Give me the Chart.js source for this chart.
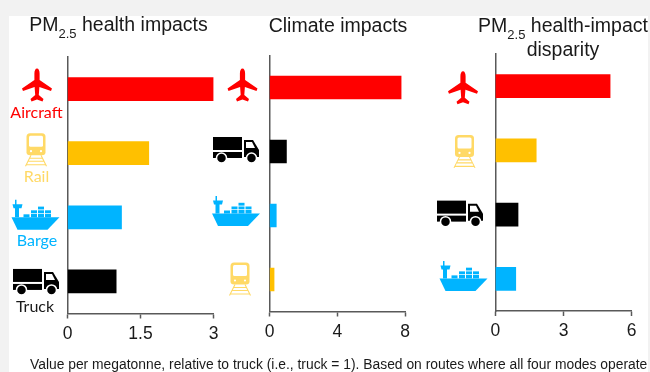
<!DOCTYPE html>
<html>
<head>
<meta charset="utf-8">
<script src="https://cdn.jsdelivr.net/npm/chart.js@4/dist/chart.umd.min.js"></script>
<style>
  html, body { margin: 0; padding: 0; background: #f2f2f2; }
  #page { position: absolute; left: 0; top: 0; width: 650px; height: 372px; overflow: hidden; }
  #sheet { position: absolute; left: 9px; top: 16px; width: 639px; height: 356px; background: #fff; }
  canvas { position: absolute; left: 0; top: 0; }
  .title, .note { position: absolute; font-family: "Liberation Sans", Arial, sans-serif; color: #1a1a1a; white-space: nowrap; text-align: center; }
  .title { font-size: 19.5px; line-height: 24px; transform: translateX(-50%); }
  .title sub { font-size: 13px; line-height: 0; vertical-align: -6.5px; }
  .note { font-size: 13.85px; line-height: 16px; left: 30px; top: 356px; }
</style>
</head>
<body>
<div id="page">
  <div id="sheet"></div>
  <canvas id="chartHealth" width="650" height="372"></canvas>
  <canvas id="chartClimate" width="650" height="372"></canvas>
  <canvas id="chartDisparity" width="650" height="372"></canvas>
  <div class="title" style="left:118.5px;top:12px">PM<sub>2.5</sub> health impacts</div>
  <div class="title" style="left:338px;top:13px">Climate impacts</div>
  <div class="title" style="left:563px;top:13px">PM<sub>2.5</sub> health-impact<br>disparity</div>
  <div class="note">Value per megatonne, relative to truck (i.e., truck = 1). Based on routes where all four modes operate</div>
</div>
<script>
// 値は図から読み取り
const healthModes = ['Aircraft', 'Rail', 'Barge', 'Truck'];
const healthValues = [3.0, 1.67, 1.11, 1.0];
const healthTicks = [0, 1.5, 3];

const climateModes = ['Aircraft', 'Truck', 'Barge', 'Rail'];
const climateValues = [7.77, 1.0, 0.4, 0.27];
const climateTicks = [0, 4, 8];

const disparityModes = ['Aircraft', 'Rail', 'Truck', 'Barge'];
const disparityValues = [5.05, 1.8, 1.0, 0.9];
const disparityTicks = [0, 3, 6];

const barColors = { Aircraft: '#ff0000', Rail: '#ffc000', Barge: '#00b4ff', Truck: '#000000' };
const iconColors = { Aircraft: '#ff0000', Rail: '#ffd966', Barge: '#00b4ff', Truck: '#000000' };

const AXIS_COLOR = '#595959';

// アイコン描画 (x, y はアイコンの中心)
function drawPlane(ctx, x, y, color) {
    ctx.save();
    ctx.translate(x - 15, y - 17);
    ctx.fillStyle = color;
    ctx.fill(new Path2D('M15 0C16.6 0 17.6 2 17.6 5L17.6 11.5L30 20L29 22.5L17.4 18.5L16.8 26.5L21.5 30.5L20.5 33L15 31L9.5 33L8.5 30.5L13.2 26.5L12.6 18.5L1 22.5L0 20L12.4 11.5L12.4 5C12.4 2 13.4 0 15 0Z'));
    ctx.restore();
}

function drawTrain(ctx, x, y, color) {
    ctx.save();
    ctx.translate(x - 11, y - 16.5);
    ctx.fillStyle = color;
    ctx.strokeStyle = color;
    ctx.fill(new Path2D('M5 0L17 0Q20.5 0 20.5 3.5L20.5 19Q20.5 22 17 22L5 22Q1.5 22 1.5 19L1.5 3.5Q1.5 0 5 0Z'));
    ctx.fillStyle = '#fff';
    ctx.fill(new Path2D('M5.5 2.5L16.5 2.5Q18 2.5 18 4L18 12Q18 13.5 16.5 13.5L5.5 13.5Q4 13.5 4 12L4 4Q4 2.5 5.5 2.5Z'));
    ctx.beginPath();
    ctx.arc(6, 18, 1.1, 0, Math.PI * 2);
    ctx.arc(16, 18, 1.1, 0, Math.PI * 2);
    ctx.fill();
    // 線路
    ctx.lineWidth = 1.1;
    ctx.beginPath();
    ctx.moveTo(6, 22); ctx.lineTo(0.5, 33);
    ctx.moveTo(16, 22); ctx.lineTo(21.5, 33);
    ctx.moveTo(4.5, 25); ctx.lineTo(17.5, 25);
    ctx.moveTo(3.5, 28); ctx.lineTo(18.5, 28);
    ctx.moveTo(1.5, 31.5); ctx.lineTo(20.5, 31.5);
    ctx.stroke();
    ctx.restore();
}

function drawShip(ctx, x, y, color) {
    ctx.save();
    ctx.translate(x - 24, y - 15);
    ctx.fillStyle = color;
    // 船体
    ctx.fill(new Path2D('M0 17.5L48 17.5L36 30L6 30Z'));
    // 艦橋
    ctx.fill(new Path2D('M3.5 0L5 0L5 4.5L11 4.5L10 8.5L7.5 8.5L7.5 17.5L3.5 17.5L3.5 8.5L2 8.5L1 4.5L3.5 4.5Z'));
    // コンテナ
    ctx.fillRect(12, 14.5, 6, 3);
    [19.5, 26.5, 33.5].forEach(cx => {
        ctx.fillRect(cx, 10.5, 6, 2.8);
        ctx.fillRect(cx, 14, 6, 3.5);
    });
    ctx.fillRect(26.5, 6.8, 6, 2.8);
    ctx.restore();
}

function drawTruck(ctx, x, y, color) {
    ctx.save();
    ctx.translate(x - 23, y - 13);
    ctx.fillStyle = color;
    ctx.fillRect(0, 0, 29, 13);
    ctx.fillRect(0, 15, 29, 6);
    ctx.fill(new Path2D('M31 3L40 3L46 13L46 20L31 20Z'));
    ctx.fillStyle = '#fff';
    ctx.fill(new Path2D('M33 5L39 5L42 11L33 11Z'));
    ctx.strokeStyle = '#fff';
    ctx.lineWidth = 1.5;
    [8.5, 38.5].forEach(cx => {
        ctx.fillStyle = color;
        ctx.beginPath();
        ctx.arc(cx, 21, 5, 0, Math.PI * 2);
        ctx.fill();
        ctx.stroke();
    });
    ctx.restore();
}

const iconDrawers = { Aircraft: drawPlane, Rail: drawTrain, Barge: drawShip, Truck: drawTruck };

// 棒グラフの左側にアイコンとラベルを描くプラグイン
const iconPlugin = {
    id: 'modeIcons',
    afterDraw(chart, args, opts) {
        const ctx = chart.ctx;
        const yScale = chart.scales.y;
        chart.data.labels.forEach((mode, i) => {
            const cy = yScale.getPixelForValue(i);
            const place = opts.places[i];
            iconDrawers[mode](ctx, place[0], cy + place[1], iconColors[mode]);
            if (opts.texts) {
                ctx.save();
                ctx.font = '16px Lato, "Open Sans", sans-serif';
                ctx.textAlign = 'center';
                ctx.textBaseline = 'middle';
                ctx.fillStyle = mode === 'Truck' ? '#1a1a1a' : iconColors[mode];
                ctx.fillText(mode, opts.texts[i][0], cy + opts.texts[i][1]);
                ctx.restore();
            }
        });
    }
};

function makePanel(id, modes, values, ticks, area, places, texts) {
    new Chart(document.getElementById(id), {
        type: 'bar',
        data: {
            labels: modes,
            datasets: [{
                data: values,
                backgroundColor: modes.map(m => barColors[m]),
                barThickness: 23
            }]
        },
        plugins: [iconPlugin],
        options: {
            indexAxis: 'y',
            responsive: false,
            animation: false,
            layout: {
                padding: { left: area.left, right: 650 - area.right, top: area.top, bottom: 372 - area.bottom - 30 }
            },
            plugins: {
                legend: { display: false },
                tooltip: { enabled: false },
                modeIcons: { places: places, texts: texts }
            },
            scales: {
                x: {
                    type: 'linear',
                    min: ticks[0],
                    max: ticks[ticks.length - 1],
                    afterFit: s => { s.height = 30; },
                    afterBuildTicks: s => { s.ticks = ticks.map(v => ({ value: v })); },
                    grid: { drawOnChartArea: false, tickLength: 5, tickWidth: 1.5, tickColor: AXIS_COLOR },
                    border: { color: AXIS_COLOR, width: 1.5 },
                    ticks: {
                        color: '#1a1a1a',
                        padding: 5,
                        maxRotation: 0,
                        autoSkip: false,
                        font: { family: '"Liberation Sans", Arial, sans-serif', size: 17.5 }
                    }
                },
                y: {
                    type: 'category',
                    afterFit: s => { s.width = 0; },
                    grid: { display: false },
                    border: { color: AXIS_COLOR, width: 1.5 },
                    ticks: { display: false }
                }
            }
        }
    });
}

makePanel('chartHealth', healthModes, healthValues, healthTicks,
    { left: 67.5, right: 213.5, top: 57, bottom: 313.5 },
    [[37, -3.5], [36, -3.5], [35.5, -2.5], [36, 0.5]],
    [[36.5, 24], [36.5, 24], [37, 24], [35, 25.5]]);

makePanel('chartClimate', climateModes, climateValues, climateTicks,
    { left: 269.5, right: 405, top: 55.5, bottom: 311.5 },
    [[242.5, -2], [236, -1.5], [236, -4.5], [240, -0.5]],
    null);

makePanel('chartDisparity', disparityModes, disparityValues, disparityTicks,
    { left: 495.3, right: 631.7, top: 54, bottom: 311 },
    [[463, 2], [464.5, 1], [460, -1], [463.5, -3]],
    null);
</script>
</body>
</html>
